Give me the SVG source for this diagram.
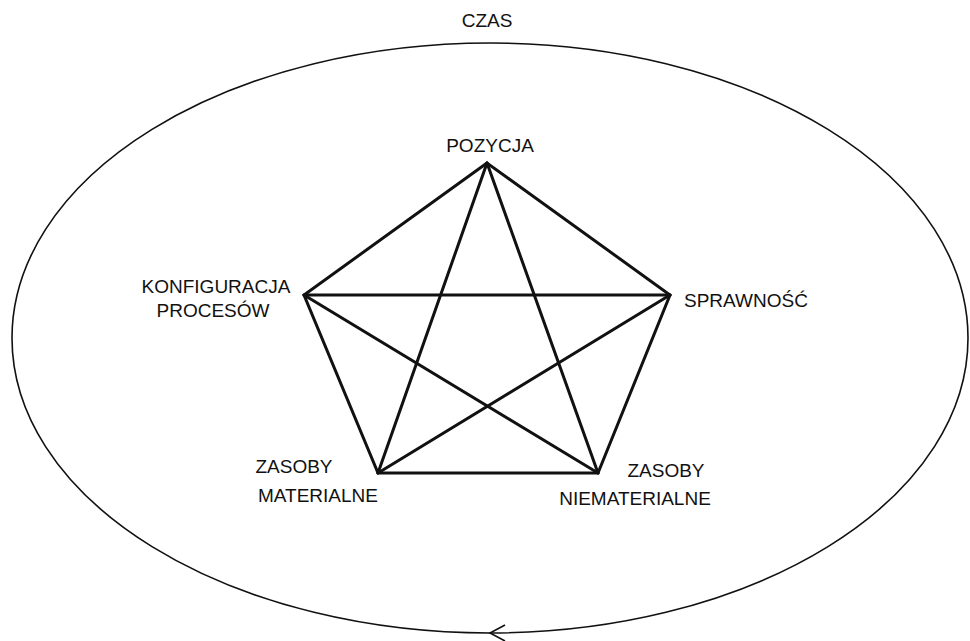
<svg xmlns="http://www.w3.org/2000/svg" width="970" height="641" viewBox="0 0 970 641">
<style>
.lbl{font-family:"Liberation Sans",Arial,sans-serif;font-size:19px;fill:#111;}
.edge{stroke:#111;stroke-width:3;stroke-linecap:round;fill:none;}
.cycle{stroke:#111;stroke-width:1.6;fill:none;}
</style>
<rect width="970" height="641" fill="#fff"/>
<g id="czas">
<ellipse class="cycle" cx="490" cy="338" rx="478" ry="295"/>
<path class="cycle" d="M505,625 L490,633 L505,641"/>
<text class="lbl" x="487" y="27" text-anchor="middle">CZAS</text>
</g>
<g id="connectors">
<path class="edge" d="M487,163 L304,295 L378,473 L598,473 L670,295 Z"/>
<path class="edge" d="M487,163 L378,473"/>
<path class="edge" d="M487,163 L598,473"/>
<path class="edge" d="M304,295 L670,295"/>
<path class="edge" d="M304,295 L598,473"/>
<path class="edge" d="M670,295 L378,473"/>
</g>
<g id="pozycja"><text class="lbl" x="490" y="152" text-anchor="middle">POZYCJA</text></g>
<g id="konfiguracja"><text class="lbl" x="216" y="293" text-anchor="middle">KONFIGURACJA</text><text class="lbl" x="213" y="317" text-anchor="middle">PROCESÓW</text></g>
<g id="sprawnosc"><text class="lbl" x="684" y="307">SPRAWNOŚĆ</text></g>
<g id="zasoby-materialne"><text class="lbl" x="294" y="473" text-anchor="middle">ZASOBY</text><text class="lbl" x="318" y="502" text-anchor="middle">MATERIALNE</text></g>
<g id="zasoby-niematerialne"><text class="lbl" x="666" y="477" text-anchor="middle">ZASOBY</text><text class="lbl" x="635" y="505" text-anchor="middle">NIEMATERIALNE</text></g>
</svg>
